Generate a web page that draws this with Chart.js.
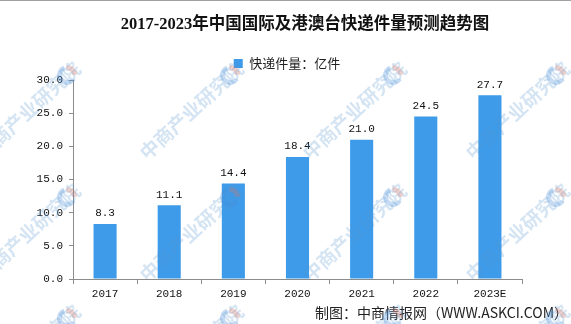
<!DOCTYPE html>
<html>
<head>
<meta charset="utf-8">
<script src="https://cdn.jsdelivr.net/npm/chart.js@4.4.0/dist/chart.umd.min.js"></script>
<style>
  html, body { margin: 0; padding: 0; background: #fff; }
  #wrap { width: 571px; height: 324px; }
</style>
</head>
<body>
<div id="wrap"><canvas id="kuaidiChart" width="571" height="324"></canvas></div>
<script>
const years = ['2017', '2018', '2019', '2020', '2021', '2022', '2023E'];
const volumes = [8.3, 11.1, 14.4, 18.4, 21.0, 24.5, 27.7];
const seriesName = '快递件量：亿件';
const chartTitle = '2017-2023年中国国际及港澳台快递件量预测趋势图';
const sourceNote = '制图：中商情报网（WWW.ASKCI.COM）';
const stampText = '中商产业研究院';

const axisGrey = '#8c8c8c';
const barBlue = '#3d9be9';
const monoFont = { family: '"Liberation Mono", "DejaVu Sans Mono", monospace', size: 11 };

// faint diagonal stamp: round logo + company name
function drawStamp(ctx, x, y) {
  ctx.save();
  ctx.translate(x, y);
  ctx.rotate(-0.745);
  ctx.lineWidth = 5;
  ctx.strokeStyle = 'rgba(70,140,215,0.3)';
  ctx.beginPath();
  ctx.arc(0, 0, 7.5, 1.3, 5.1);
  ctx.stroke();
  ctx.strokeStyle = 'rgba(235,110,80,0.3)';
  ctx.beginPath();
  ctx.arc(0, 0, 7.5, 5.4, 7.0);
  ctx.stroke();
  ctx.fillStyle = 'rgba(90,150,210,0.26)';
  ctx.font = 'bold 19px "Noto Sans CJK SC"';
  ctx.textBaseline = 'middle';
  ctx.fillText(stampText, 14, 0);
  ctx.restore();
}

const decorPlugin = {
  id: 'decor',
  // legend sits a little right of the plot centre
  afterLayout(chart) {
    chart.legend.left += 26;
    chart.legend.right += 26;
  },
  afterDatasetsDraw(chart) {
    const ctx = chart.ctx;
    const meta = chart.getDatasetMeta(0);
    ctx.save();
    ctx.fillStyle = '#111';
    ctx.font = '11px ' + monoFont.family;
    ctx.textAlign = 'center';
    ctx.textBaseline = 'bottom';
    meta.data.forEach((bar, i) => {
      ctx.fillText(volumes[i].toFixed(1), bar.x, bar.y - 5);
    });
    ctx.restore();
  },
  afterDraw(chart) {
    const ctx = chart.ctx;
    ctx.save();
    // thin rule along the top edge
    ctx.fillStyle = '#a0a0a0';
    ctx.fillRect(0, 0, chart.width, 1);

    ctx.fillStyle = '#111';
    ctx.font = 'bold 16.5px "Liberation Serif", "Noto Sans CJK SC"';
    ctx.textAlign = 'center';
    ctx.textBaseline = 'middle';
    ctx.fillText(chartTitle, 305, 25);

    ctx.font = '14px "Noto Sans CJK SC"';
    ctx.textAlign = 'right';
    ctx.fillStyle = '#222';
    ctx.fillText(sourceNote, 568, 313);

    const cols = [-96, 67, 230, 393, 556];
    const rows = [75, 197, 318];
    cols.forEach(cx => rows.forEach(cy => drawStamp(ctx, cx, cy)));
    ctx.restore();
  }
};

new Chart(document.getElementById('kuaidiChart'), {
  type: 'bar',
  data: {
    labels: years,
    datasets: [{
      label: seriesName,
      data: volumes,
      backgroundColor: barBlue,
      borderWidth: 0,
      categoryPercentage: 1,
      barPercentage: 0.36
    }]
  },
  options: {
    responsive: false,
    animation: false,
    layout: { padding: { top: 52, left: 0, right: 49, bottom: 20 } },
    plugins: {
      title: { display: false },
      tooltip: { enabled: false },
      legend: {
        position: 'top',
        labels: {
          boxWidth: 9,
          boxHeight: 9,
          padding: 5,
          color: '#222',
          font: { family: '"Noto Sans CJK SC"', size: 13 }
        }
      }
    },
    scales: {
      x: {
        grid: { display: true, drawOnChartArea: false, offset: true, tickLength: 5, color: axisGrey },
        border: { display: true, color: axisGrey },
        ticks: { color: '#111', font: monoFont, padding: 3, maxRotation: 0 },
        afterFit(scale) { scale.height = 25; }
      },
      y: {
        min: 0,
        max: 30,
        grid: { display: true, drawOnChartArea: false, tickLength: 4, color: axisGrey },
        border: { display: true, color: axisGrey },
        ticks: {
          stepSize: 5,
          color: '#111',
          font: monoFont,
          padding: 6,
          callback: v => v.toFixed(1)
        },
        afterFit(scale) { scale.width = 73; }
      }
    }
  },
  plugins: [decorPlugin]
});
</script>
</body>
</html>
